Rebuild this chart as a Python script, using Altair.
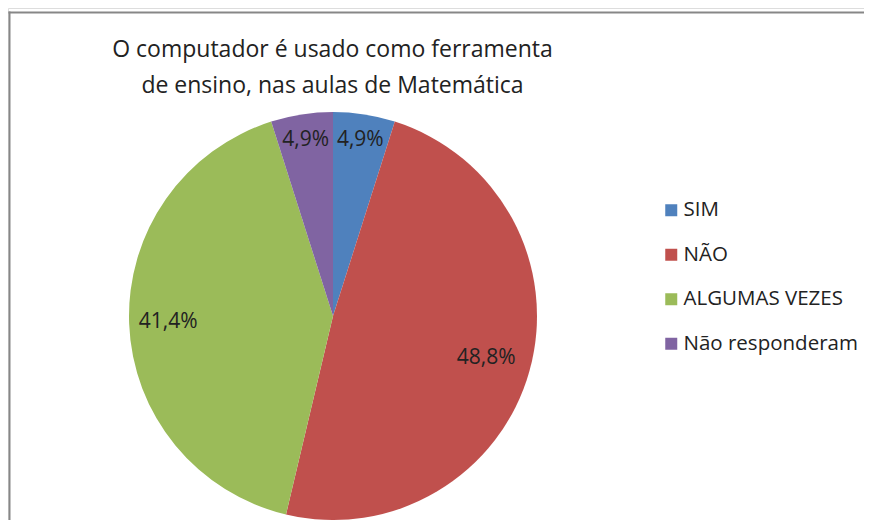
import altair as alt
import pandas as pd

categories = ["SIM", "NÃO", "ALGUMAS VEZES", "Não responderam"]
values = [4.9, 48.8, 41.4, 4.9]
labels = ["4,9%", "48,8%", "41,4%", "4,9%"]
colors = ["#4F81BD", "#C0504D", "#9BBB59", "#8064A2"]
title_lines = ["O computador é usado como ferramenta", "de ensino, nas aulas de Matemática"]

df = pd.DataFrame({"cat": categories, "val": values, "lab": labels, "ord": list(range(len(categories)))})

FONT = "Open Sans"
CX, CY, R = 325, 308, 204

base = alt.Chart(df).encode(
    theta=alt.Theta("val:Q", stack=True),
    order=alt.Order("ord:Q"),
)

pie = base.mark_arc(outerRadius=R).encode(
    x=alt.value(CX), y=alt.value(CY),
    color=alt.Color("cat:N",
                    scale=alt.Scale(domain=categories, range=colors),
                    sort=categories,
                    legend=alt.Legend(title=None, orient="none", legendX=653, legendY=192,
                                      symbolType="square", symbolSize=144, symbolStrokeWidth=0,
                                      labelFontSize=20.5, labelFont=FONT, labelColor="#222222",
                                      rowPadding=23.5, labelOffset=2, labelLimit=400)),
)

radii = {"SIM": 178, "NÃO": 159, "ALGUMAS VEZES": 165, "Não responderam": 178}
texts = []
for c in categories:
    texts.append(
        base.mark_text(fontSize=21, font=FONT, color="#222222", radius=radii[c]).encode(
            x=alt.value(CX), y=alt.value(CY), text="lab:N",
            opacity=alt.condition(alt.datum.cat == c, alt.value(1), alt.value(0)),
        )
    )

one = pd.DataFrame({"a": [0]})
top_line = alt.Chart(one).mark_rule(stroke="#878787", strokeWidth=2).encode(
    x=alt.value(0.5), x2=alt.value(900), y=alt.value(4.5))
left_line = alt.Chart(one).mark_rule(stroke="#878787", strokeWidth=2).encode(
    x=alt.value(1.5), y=alt.value(3.5), y2=alt.value(900))

title_marks = [
    alt.Chart(one).mark_text(fontSize=23, font=FONT, color="#222222", align="center").encode(
        x=alt.value(324.5), y=alt.value(42 + i * 36), text=alt.value(t)
    )
    for i, t in enumerate(title_lines)
]

chart = alt.layer(top_line, left_line, pie, *texts, *title_marks).properties(
    width=856, height=512, autosize=alt.AutoSizeParams(type="none"), padding=0
).configure_view(strokeWidth=0, stroke="transparent").configure(background="white")

chart.save("out.html", embed_options={"renderer": "svg", "actions": False})
